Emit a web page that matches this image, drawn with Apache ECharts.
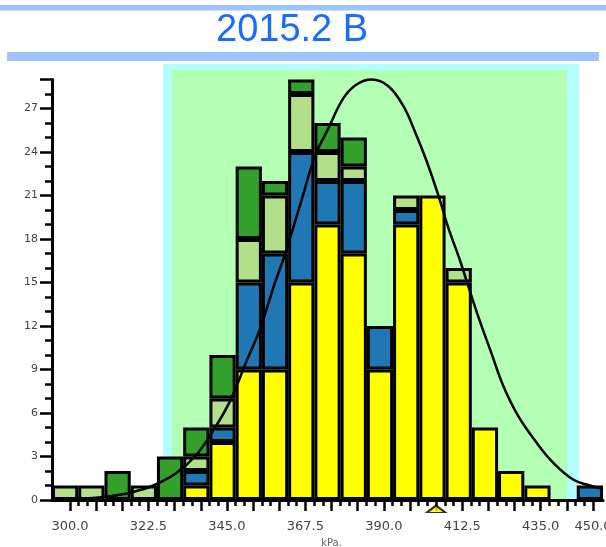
<!DOCTYPE html>
<html><head><meta charset="utf-8">
<script src="https://cdn.jsdelivr.net/npm/echarts@6/dist/echarts.min.js"></script>
<style>html,body{margin:0;padding:0;background:#fff}#c{width:606px;height:547px}</style>
</head><body><div id="c"></div>
<script>
// ---- data ----
const titleText = '2015.2 B';
const binCenters = [300,307.5,315,322.5,330,337.5,345,352.5,360,367.5,375,382.5,390,397.5,405,412.5,420,427.5,435,442.5,450];
const yellowCounts     = [0,0,0,0,0,1,4,9,9,15,19,17,9,19,21,15,5,2,1,0,0];
const blueCounts       = [0,0,0,0,0,1,1,6,8,9,3,5,3,1,0,0,0,0,0,0,1];
const lightGreenCounts = [1,1,0,1,0,1,2,3,4,4,2,1,0,1,0,1,0,0,0,0,0];
const darkGreenCounts  = [0,0,2,0,3,2,3,5,1,1,2,2,0,0,0,0,0,0,0,0,0];
const curveX = [296.25,305,312.8,318.5,325.2,331.9,337.6,342.35,347.1,351.9,355.7,360,362.8,367.6,371.4,375.2,379.5,383.3,387.6,392.4,396.7,400,403.3,406.7,409.5,412.9,415.7,418.6,421.9,425.2,429.5,434.8,439.5,445.2,450,453.75];
const curveY = [0.02,0.08,0.26,0.5,1.0,1.88,3.14,4.8,6.8,9.6,11.8,15.0,16.9,20.7,23.7,25.6,27.7,28.66,29.0,28.54,27.16,25.4,23.4,21.0,18.8,16.5,14.4,12.3,10.1,7.9,5.8,3.94,2.57,1.41,1.0,0.75];
const outerBand = [328.0, 446.9, 30.07];   // [from, to, top]
const innerBand = [330.5, 443.4, 29.66];
const targetValue = 405;
const yMaxCount = 29, yStep = 3;
const rulerMin = 300, rulerMax = 450, rulerStep = 7.5, rulerLabelStep = 22.5;
const unitName = 'kPa.';

// ---- chart ----
const chart = echarts.init(document.getElementById('c'), null, {renderer:'canvas'});
const half = (binCenters[1]-binCenters[0])/2;
const bandColors = ['#b3ffff', '#b3ffb3'];
const blackAxis = {lineStyle:{color:'#000', width:3}};
const barSeries = (arr, c) => ({type:'bar', xAxisIndex:0, yAxisIndex:0, stack:'h', z:2, barCategoryGap:'0%',
  data:arr.map(v => v === 0 ? '-' : v), itemStyle:{color:c, borderColor:'#000', borderWidth:3}});
const gridBase = {outerBoundsMode:'none', containLabel:false};

chart.setOption({
  animation:false,
  backgroundColor:'#fff',
  title:{text:titleText, left:216, top:12, padding:0,
    textStyle:{fontFamily:'Liberation Sans', fontSize:38, fontWeight:'normal', color:'#1a6bff'}},
  graphic:[
    {type:'rect', shape:{x:0,y:5,width:606,height:5.5}, style:{fill:'#9ec4ff'}},
    {type:'rect', shape:{x:7,y:52,width:592,height:9}, style:{fill:'#9ec4ff'}}
  ],
  grid:[
    {...gridBase, left:52, right:3, top:64, bottom:47},
    {...gridBase, left:52, right:3, top:79.5, bottom:47},
    {...gridBase, left:70, right:13, top:79.5, bottom:47}
  ],
  xAxis:[
    {type:'category', gridIndex:0, data:binCenters.map(String), axisLine:{show:true, ...blackAxis},
      axisTick:{show:false}, axisLabel:{show:false}, splitLine:{show:false}},
    {type:'value', gridIndex:0, min:binCenters[0]-half, max:binCenters[binCenters.length-1]+half, show:false},
    {type:'value', gridIndex:1, show:false, min:0, max:1},
    {type:'value', gridIndex:2, min:rulerMin, max:rulerMax, interval:rulerStep, offset:4.5,
      axisLine:{show:true, lineStyle:{color:'#000', width:2.5}},
      axisTick:{show:true, length:11, lineStyle:{color:'#000', width:2.5}},
      minorTick:{show:true, splitNumber:3, length:6, lineStyle:{color:'#000', width:2.5}},
      splitLine:{show:false}, minorSplitLine:{show:false},
      axisLabel:{margin:16, fontFamily:'DejaVu Sans', fontSize:13, color:'#444', showMaxLabel:true, hideOverlap:false,
        formatter:v => {const k=(v-rulerMin)/rulerLabelStep; return (Math.abs(k-Math.round(k))<1e-6 || Math.abs(v-rulerMax)<1e-6) ? v.toFixed(1) : '';}},
      name:unitName, nameLocation:'middle', nameGap:34,
      nameTextStyle:{fontFamily:'DejaVu Sans', fontSize:10, color:'#666'}}
  ],
  yAxis:[
    {type:'value', gridIndex:0, min:0, max:outerBand[2], show:false},
    {type:'value', gridIndex:1, min:0, max:yMaxCount, interval:yStep,
      axisLine:{show:true, ...blackAxis},
      axisTick:{show:true, length:12, lineStyle:{color:'#000', width:2.5}},
      minorTick:{show:true, splitNumber:3, length:7, lineStyle:{color:'#000', width:2.5}},
      splitLine:{show:false}, minorSplitLine:{show:false},
      axisLabel:{margin:14, fontFamily:'DejaVu Sans', fontSize:11, color:'#444', showMaxLabel:false}},
    {type:'value', gridIndex:2, min:0, max:yMaxCount, show:false}
  ],
  series:[
    {type:'custom', xAxisIndex:1, yAxisIndex:0, z:0, silent:true,
      data:[outerBand, innerBand], encode:{x:[0,1], y:2},
      renderItem:(params, api) => {
        const p0 = api.coord([api.value(0), api.value(2)]);
        const p1 = api.coord([api.value(1), 0]);
        return {type:'rect', shape:{x:p0[0], y:p0[1], width:p1[0]-p0[0], height:p1[1]-p0[1]},
          style:{fill:bandColors[params.dataIndex]}};
      }},
    barSeries(yellowCounts, '#ffff00'),
    barSeries(blueCounts, '#1f77b4'),
    barSeries(lightGreenCounts, '#b2df8a'),
    barSeries(darkGreenCounts, '#33a02c'),
    {type:'line', xAxisIndex:1, yAxisIndex:0, z:5, smooth:0.4, symbol:'none',
      data:curveX.map((x,i)=>[x, curveY[i]]), lineStyle:{color:'#000', width:2.5}},
    {type:'scatter', xAxisIndex:3, yAxisIndex:2, z:6, clip:false,
      data:[[targetValue, 0]], symbol:'triangle', symbolSize:[18,7], symbolOffset:[0,9],
      itemStyle:{color:'#ffff00', borderColor:'#000', borderWidth:2}}
  ]
});
</script></body></html>
